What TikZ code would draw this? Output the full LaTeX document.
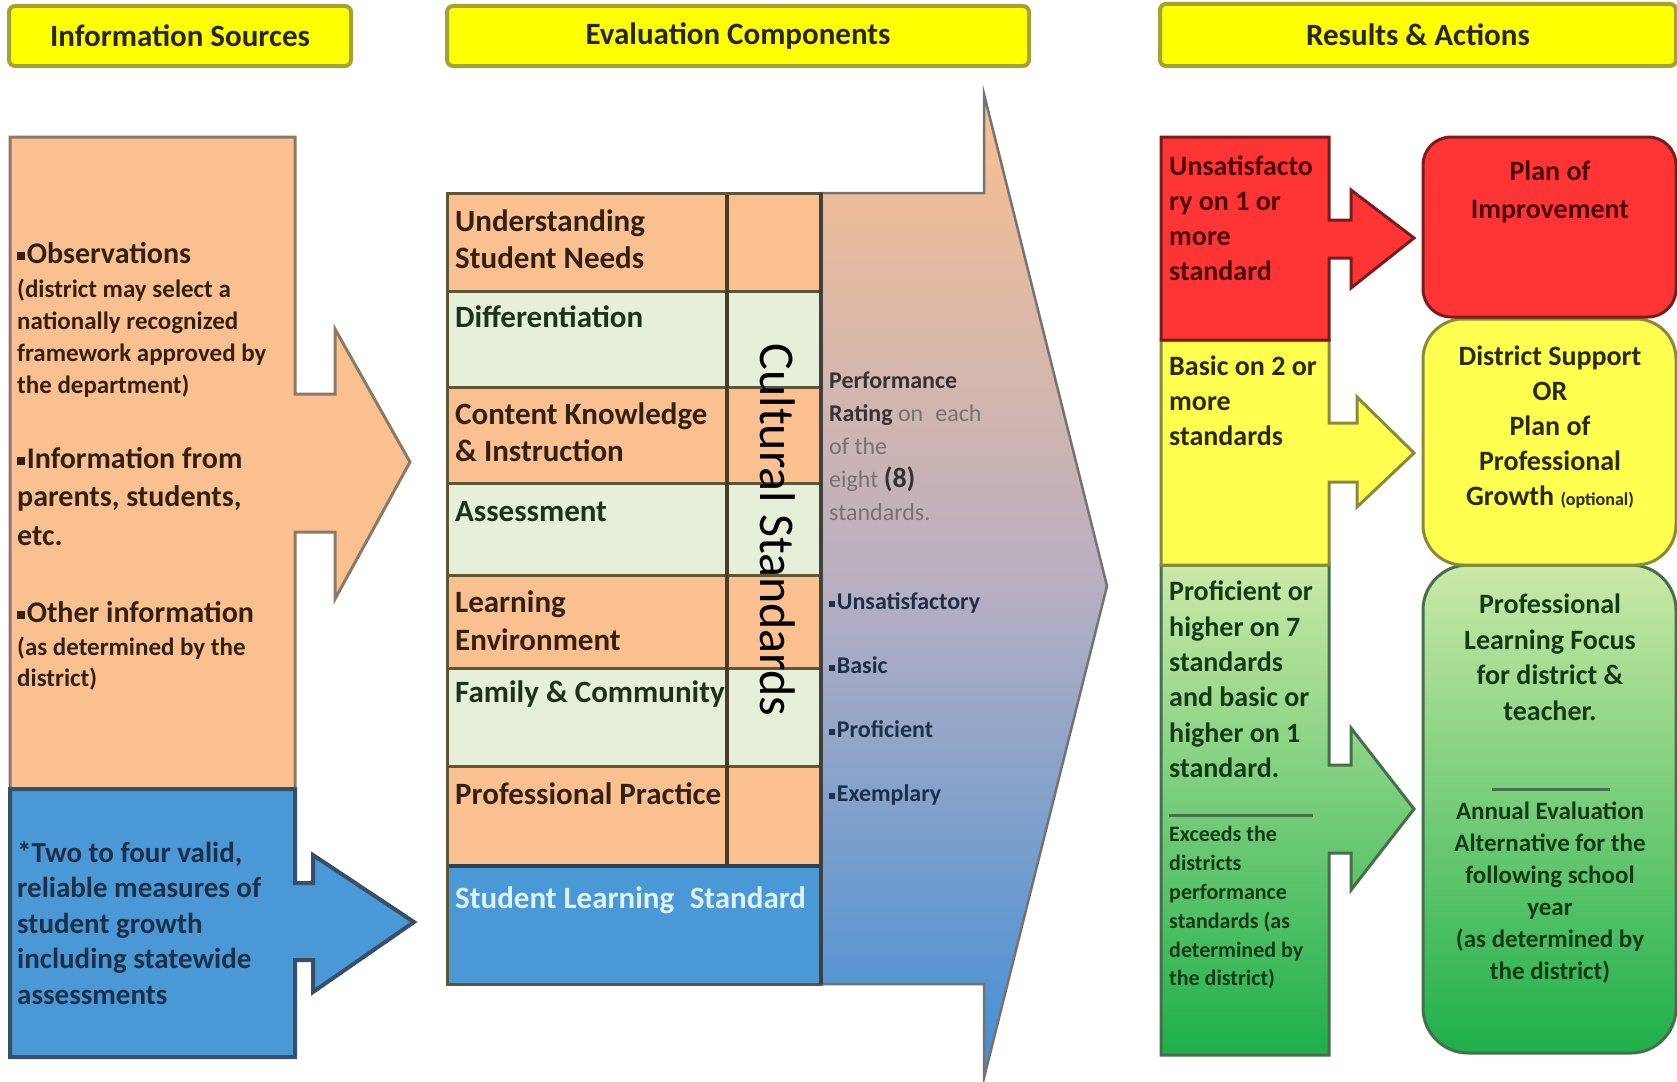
\documentclass[tikz,border=0pt]{standalone}
\usepackage{fontspec}
\setmainfont{Carlito}
\definecolor{orF}{HTML}{FAC090}
\definecolor{orD}{HTML}{8C7A66}
\definecolor{blF}{HTML}{4A98D6}
\definecolor{blD}{HTML}{36506A}
\definecolor{grL}{HTML}{E6F0D8}
\definecolor{tabD}{HTML}{5E5638}
\definecolor{colD}{HTML}{4A3A28}
\definecolor{hdrF}{HTML}{FFFF00}
\definecolor{hdrD}{HTML}{A5A235}
\definecolor{redF}{HTML}{FF3535}
\definecolor{redD}{HTML}{7A1C1C}
\definecolor{redT}{HTML}{4A0808}
\definecolor{yelF}{HTML}{FFFF50}
\definecolor{yelD}{HTML}{8A8A3A}
\definecolor{yelT}{HTML}{2A2A05}
\definecolor{grnTop}{HTML}{CBE9A6}
\definecolor{grnBot}{HTML}{1EAF4B}
\definecolor{grnD}{HTML}{44704A}
\definecolor{grnT}{HTML}{123A14}
\definecolor{brT}{HTML}{33210F}
\definecolor{dgT}{HTML}{1E321A}
\definecolor{nvT}{HTML}{1C3048}
\definecolor{gryT}{HTML}{7A7070}
\definecolor{arrTop}{HTML}{FAC08F}
\definecolor{arrMid}{HTML}{B8AFC2}
\definecolor{arrBot}{HTML}{3F8FD6}
\definecolor{slsT}{HTML}{DDF2FF}
\newcommand\fst{\rule{0pt}{0.8em}}
\newcommand\sqb{\raisebox{0.1em}{\rule{0.26em}{0.26em}}\hspace{0.06em}}
\newcommand\fsz[2]{\fontsize{#1}{#2}\selectfont}
\begin{document}
\begin{tikzpicture}[x=1pt,y=-1pt,
  txt/.style={inner sep=0pt, anchor=north west, align=left},
  ctxt/.style={inner sep=0pt, anchor=north, align=center},
  hdrbox/.style={draw=hdrD, line width=4pt, fill=hdrF, rounded corners=6pt,
     font=\fsz{31}{36}\bfseries, text=black!85, inner sep=0pt},
  rowline/.style={draw=tabD, line width=3pt},
  sepline/.style={line width=3pt}]
\useasboundingbox (0,0) rectangle (1677,1081);
\fill[white] (0,0) rectangle (1677,1081);

% headers
\node[hdrbox, minimum width=342, minimum height=60] (h1) at (180,36) {Information Sources};
\node[hdrbox, minimum width=582, minimum height=60] (h2) at (738,36) {Evaluation Components};
\node[hdrbox, minimum width=516, minimum height=62] (h3) at (1418,35) {Results \& Actions};

% left sources
\draw[orD, line width=3pt, fill=orF] (10,137) -- (295,137) -- (295,394) -- (335,394) -- (335,329) -- (410,462) -- (335,599) -- (335,532) -- (295,532) -- (295,789) -- (10,789) -- cycle;
\draw[blD, line width=4pt, fill=blF] (10,789) -- (295,789) -- (295,883) -- (313,883) -- (313,855) -- (414,922) -- (313,992) -- (313,960) -- (295,960) -- (295,1057) -- (10,1057) -- cycle;

\node[txt, font=\fsz{30}{38}\bfseries, text=brT] (obs) at (17,239) {\fst\sqb Observations};
\node[txt, font=\fsz{25}{32}\bfseries, text=brT] (obsd) at (17,277) {\fst(district may select a\\nationally recognized\\framework approved by\\the department)};
\node[txt, font=\fsz{30}{38.5}\bfseries, text=brT] (info) at (17,444) {\fst\sqb Information from\\parents, students,\\etc.};
\node[txt, font=\fsz{30}{38}\bfseries, text=brT] (oth) at (17,598) {\fst\sqb Other information};
\node[txt, font=\fsz{25}{31}\bfseries, text=brT] (othd) at (17,635) {\fst(as determined by the\\district)};
\node[txt, font=\fsz{29}{35.5}\bfseries, text=nvT] (growth) at (17,839) {\fst*Two to four valid,\\reliable measures of\\student growth\\including statewide\\assessments};

% big arrow
\draw[draw=black!55, line width=2.5pt, top color=arrTop, bottom color=arrBot, middle color=arrMid] (821,193) -- (984,193) -- (984,94) -- (1107,586) -- (984,1078) -- (984,984) -- (821,984) -- cycle;

% table
\fill[orF] (447,193) rectangle (821,291);
\fill[grL] (447,291) rectangle (821,387);
\fill[orF] (447,387) rectangle (821,483);
\fill[grL] (447,483) rectangle (821,575);
\fill[orF] (447,575) rectangle (821,668);
\fill[grL] (447,668) rectangle (821,766);
\fill[orF] (447,766) rectangle (821,866);
\fill[blF] (447,866) rectangle (821,984);
\foreach \yy in {291,387,483,575,668,766} {\draw[rowline] (447,\yy) -- (821,\yy);}
\draw[draw=blD!80!black, line width=4pt] (447,866) -- (821,866);
\draw[draw=colD, line width=4pt] (727,193) -- (727,866);
\draw[draw=tabD, line width=3pt] (447,193) rectangle (821,984);
\draw[draw=black!75, line width=4pt] (821,193) -- (821,984);

\node[txt, font=\fsz{31}{37}\bfseries, text=brT] (r1) at (455,206) {\fst Understanding\\Student Needs};
\node[txt, font=\fsz{31}{37}\bfseries, text=dgT] (r2) at (455,302) {\fst Differentiation};
\node[txt, font=\fsz{31}{37}\bfseries, text=brT] (r3) at (455,399) {\fst Content Knowledge\\\& Instruction};
\node[txt, font=\fsz{31}{37}\bfseries, text=dgT] (r4) at (455,496) {\fst Assessment};
\node[txt, font=\fsz{31}{38}\bfseries, text=brT] (r5) at (455,587) {\fst Learning\\Environment};
\node[txt, font=\fsz{31}{37}\bfseries, text=dgT] (r6) at (455,677) {\fst Family \& Community};
\node[txt, font=\fsz{31}{37}\bfseries, text=brT] (r7) at (455,779) {\fst Professional Practice};
\node[txt, font=\fsz{31}{37}\bfseries, text=slsT] (r8) at (455,883) {\fst Student Learning\enspace Standard};
\node[rotate=-90, font=\fsz{50}{56}, text=black, inner sep=0pt] (cs) at (778,530) {Cultural Standards};

\node[txt, font=\fsz{24}{33}, text=gryT] (perf) at (829,369) {\fst\textbf{\color{black!80}Performance}\\\textbf{\color{black!80}Rating} on\enspace each\\of the\\eight {\fsz{28}{33}\textbf{\color{black!80}(8)}}\\standards.};
\node[txt, font=\fsz{24}{64}\bfseries, text=nvT] (levels) at (829,590) {\fst\sqb Unsatisfactory\\\sqb Basic\\\sqb Proficient\\\sqb Exemplary};

% results column
\draw[grnD, line width=3pt, top color=grnTop, bottom color=grnBot] (1161,565) -- (1329,565) -- (1329,765) -- (1351,765) -- (1351,728) -- (1414,809) -- (1351,890) -- (1351,853) -- (1329,853) -- (1329,1055) -- (1161,1055) -- cycle;
\draw[yelD, line width=3pt, fill=yelF] (1161,340) -- (1329,340) -- (1329,423) -- (1357,423) -- (1357,397) -- (1414,453) -- (1357,507) -- (1357,482) -- (1329,482) -- (1329,565) -- (1161,565) -- cycle;
\draw[redD, line width=3pt, fill=redF] (1161,137) -- (1329,137) -- (1329,220) -- (1351,220) -- (1351,190) -- (1414,238) -- (1351,288) -- (1351,258) -- (1329,258) -- (1329,340) -- (1161,340) -- cycle;

\node[txt, font=\fsz{28}{35}\bfseries, text=redT] (unsat) at (1169,153) {\fst Unsatisfacto\\ry on 1 or\\more\\standard};
\node[txt, font=\fsz{28}{35}\bfseries, text=yelT] (basic) at (1169,353) {\fst Basic on 2 or\\more\\standards};
\node[txt, font=\fsz{28}{35.4}\bfseries, text=grnT] (prof) at (1169,578) {\fst Proficient or\\higher on 7\\standards\\and basic or\\higher on 1\\standard.};
\coordinate (sepA1) at (1169,815);
\coordinate (sepA2) at (1313,815);
\draw[sepline, draw=grnD] (sepA1) -- (sepA2);
\node[txt, font=\fsz{22}{28.8}\bfseries, text=grnT] (exceeds) at (1169,824) {\fst Exceeds the\\districts\\performance\\standards (as\\determined by\\the district)};

% action boxes
\draw[grnD, line width=3pt, top color=grnTop, bottom color=grnBot, rounded corners=45pt] (1423,565) rectangle (1676,1053);
\draw[yelD, line width=3pt, fill=yelF, rounded corners=40pt] (1423,319) rectangle (1676,565);
\draw[redD, line width=3pt, fill=redF, rounded corners=28pt] (1423,137) rectangle (1676,317);

\node[ctxt, font=\fsz{28}{38}\bfseries, text=redT] (plan) at (1550,158) {\fst Plan of\\Improvement};
\node[ctxt, font=\fsz{28}{35}\bfseries, text=yelT] (support) at (1550,343) {\fst District Support\\OR\\Plan of\\Professional\\Growth {\fsz{18}{35}(optional)}};
\node[ctxt, font=\fsz{28}{35.5}\bfseries, text=grnT] (focus) at (1550,591) {\fst Professional\\Learning Focus\\for district \&\\teacher.};
\coordinate (sepB1) at (1492,789);
\coordinate (sepB2) at (1610,789);
\draw[sepline, draw=grnD] (sepB1) -- (sepB2);
\node[ctxt, font=\fsz{25}{32}\bfseries, text=grnT] (annual) at (1550,799) {\fst Annual Evaluation\\Alternative for the\\following school\\year\\(as determined by\\the district)};
\end{tikzpicture}
\end{document}
